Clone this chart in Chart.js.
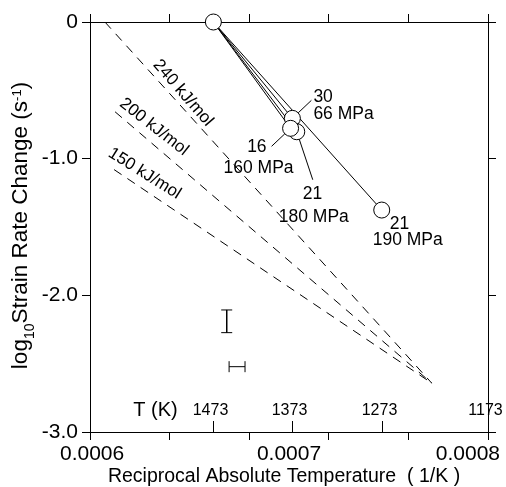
<!DOCTYPE html>
<html>
<head>
<meta charset="utf-8">
<script src="https://cdn.jsdelivr.net/npm/chart.js@4.4.0/dist/chart.umd.min.js"></script>
<style>
  html, body { margin: 0; padding: 0; background: #fff; }
  #strainChart { display: block; }
</style>
</head>
<body>
<canvas id="strainChart" width="506" height="487"></canvas>
<script>
// measured runs: reciprocal temperature (1/K) vs log10 strain rate change
const rateX = [0.000662, 0.0007017, 0.0007039, 0.0007008, 0.0007466];
const rateY = [0, -0.705, -0.803, -0.778, -1.376];
const runLabels = ['', '30', '21', '16', '21'];
const stressLabels = ['', '66 MPa', '180 MPa', '160 MPa', '190 MPa'];

// activation energy reference lines
const energyLabels = ['240 kJ/mol', '200 kJ/mol', '150 kJ/mol'];
const energyStartX = [0.0006075, 0.0006126, 0.0006121];
const energyStartY = [0, -0.657, -1.080];
const energyEndX = [0.0007717, 0.0007717, 0.0007717];
const energyEndY = [-2.642, -2.642, -2.642];

// error bars
const errVertX = [0.0006687, 0.0006687];
const errVertY = [-2.107, -2.273];
const errHorzX = [0.0006699, 0.0006779];
const errHorzY = [-2.522, -2.522];

// ticks
const xTicks = [0.0006, 0.00064, 0.00068, 0.00072, 0.00076, 0.0008];
const xTickLabels = [0.0006, 0.0007, 0.0008];
const yTicks = [0, -1, -2, -3];
const tempLabels = ['1473', '1373', '1273', '1173'];
const tempX = [0.000662, 0.0007015, 0.0007467, 0.0008];

const FONT = '"Liberation Sans", Arial, sans-serif';

// where the labels sit (pixel offsets from each circle)
const labelLayout = [
    null,
    { top: [21, -16, 'left'], bottom: [21, 1, 'left'], leader: [19, -18] },
    { top: [6, 67, 'left'], bottom: [-18, 90, 'left'], leader: [16, 48] },
    { top: [-24, 24, 'right'], bottom: [3, 45, 'right'], leader: [-19, 18] },
    { top: [8, 18.5, 'left'], bottom: [-9, 34.5, 'left'] }
];
const energyLayout = {
    x: [0.00064673, 0.00063216, 0.00062739],
    y: [-0.5195, -0.768, -1.1085],
    angle: [49, 38, 32]
};

const datasets = [];
datasets.push({
    data: rateX.map((x, i) => ({ x: x, y: rateY[i] })),
    pointRadius: 8,
    pointBackgroundColor: '#fff',
    pointBorderColor: '#000',
    pointBorderWidth: 1,
    showLine: false,
    clip: false
});
rateX.slice(1).forEach((x, i) => {
    datasets.push({
        data: [{ x: rateX[0], y: rateY[0] }, { x: x, y: rateY[i + 1] }],
        showLine: true, borderColor: '#000', borderWidth: 1, pointRadius: 0
    });
});
energyLabels.forEach((t, i) => {
    datasets.push({
        data: [{ x: energyStartX[i], y: energyStartY[i] }, { x: energyEndX[i], y: energyEndY[i] }],
        showLine: true, borderColor: '#000', borderWidth: 1, borderDash: [9, 7], pointRadius: 0
    });
});
datasets.push({
    data: errVertX.map((x, i) => ({ x: x, y: errVertY[i] })),
    showLine: true, borderColor: '#000', borderWidth: 1,
    pointStyle: 'line', pointRadius: 5.5, pointBorderColor: '#000', pointBorderWidth: 1
});
datasets.push({
    data: errHorzX.map((x, i) => ({ x: x, y: errHorzY[i] })),
    showLine: true, borderColor: '#000', borderWidth: 1,
    pointStyle: 'line', pointRotation: 90, pointRadius: 5.5, pointBorderColor: '#000', pointBorderWidth: 1
});

function frameAxis(position, size, ticks) {
    const horizontal = position === 'top' || position === 'bottom';
    return {
        type: 'linear',
        position: position,
        min: horizontal ? 0.0006 : -3,
        max: horizontal ? 0.0008 : 0,
        afterBuildTicks: s => { s.ticks = ticks.map(v => ({ value: v })); },
        afterFit: s => { if (horizontal) s.height = size; else s.width = size; },
        ticks: { display: false },
        grid: { drawOnChartArea: false, drawTicks: true, tickLength: 8, tickColor: '#000', tickWidth: 1 },
        border: { display: true, color: '#000', width: 1 }
    };
}

const yLeft = frameAxis('left', 90, yTicks);
yLeft.ticks = {
    display: true,
    color: '#000',
    padding: 4,
    font: { family: FONT, size: 21 },
    callback: v => (v === 0 ? '0' : v.toFixed(1))
};

const overlay = {
    id: 'overlay',
    afterDatasetsDraw(chart) {
        const ctx = chart.ctx;
        const xs = chart.scales.x, ys = chart.scales.y;
        const area = chart.chartArea;
        ctx.save();
        ctx.fillStyle = '#000';
        ctx.strokeStyle = '#000';
        ctx.lineWidth = 1;

        // energy labels along the dashed lines
        ctx.font = '17px ' + FONT;
        ctx.textAlign = 'center';
        ctx.textBaseline = 'middle';
        energyLabels.forEach((t, i) => {
            ctx.save();
            ctx.translate(xs.getPixelForValue(energyLayout.x[i]), ys.getPixelForValue(energyLayout.y[i]));
            ctx.rotate(energyLayout.angle[i] * Math.PI / 180);
            ctx.fillText(t, 0, 0);
            ctx.restore();
        });

        // run / stress labels with leaders
        ctx.font = '17.5px ' + FONT;
        ctx.textBaseline = 'alphabetic';
        rateX.forEach((x, i) => {
            const lay = labelLayout[i];
            if (!lay) return;
            const px = xs.getPixelForValue(x), py = ys.getPixelForValue(rateY[i]);
            ctx.textAlign = lay.top[2];
            ctx.fillText(runLabels[i], px + lay.top[0], py + lay.top[1]);
            ctx.textAlign = lay.bottom[2];
            ctx.fillText(stressLabels[i], px + lay.bottom[0], py + lay.bottom[1]);
            if (lay.leader) {
                const d = Math.hypot(lay.leader[0], lay.leader[1]);
                ctx.beginPath();
                ctx.moveTo(px + lay.leader[0], py + lay.leader[1]);
                ctx.lineTo(px + lay.leader[0] / d * 8, py + lay.leader[1] / d * 8);
                ctx.stroke();
            }
        });

        // temperature scale ticks inside the bottom axis
        ctx.font = '16px ' + FONT;
        ctx.textAlign = 'center';
        tempX.forEach((v, i) => {
            const px = Math.round(xs.getPixelForValue(v)) + 0.5;
            ctx.beginPath();
            ctx.moveTo(px, area.bottom);
            ctx.lineTo(px, area.bottom - 11);
            ctx.stroke();
            ctx.fillText(tempLabels[i], px - 3, area.bottom - 17);
        });
        ctx.font = '20px ' + FONT;
        ctx.fillText('T (K)', 155.5, area.bottom - 16);

        // x tick labels
        ctx.font = '21px ' + FONT;
        xTickLabels.forEach(v => {
            const t = v.toFixed(4);
            const w = ctx.measureText(t).width;
            let px = xs.getPixelForValue(v);
            px = Math.max(60 + w / 2, Math.min(500 - w / 2, px));
            ctx.fillText(t, px, area.bottom + 28);
        });

        // x title
        ctx.font = '19.5px ' + FONT;
        ctx.fillText('Reciprocal Absolute Temperature  ( 1/K )', 284, 482);

        // y title with sub/superscripts
        const parts = [['log', 22.5, 0], ['10', 14, 7], ['Strain Rate Change (s', 22.5, 0], ['-1', 13, -6], [')', 22.5, 0]];
        let total = 0;
        parts.forEach(p => { ctx.font = p[1] + 'px ' + FONT; total += ctx.measureText(p[0]).width; });
        ctx.save();
        ctx.translate(27, 225.5);
        ctx.rotate(-Math.PI / 2);
        ctx.textAlign = 'left';
        let cx = -total / 2;
        parts.forEach(p => {
            ctx.font = p[1] + 'px ' + FONT;
            ctx.fillText(p[0], cx, p[2]);
            cx += ctx.measureText(p[0]).width;
        });
        ctx.restore();

        ctx.restore();
    }
};

new Chart(document.getElementById('strainChart'), {
    type: 'scatter',
    data: { datasets: datasets },
    options: {
        responsive: false,
        animation: false,
        devicePixelRatio: 1,
        layout: { padding: 0 },
        plugins: { legend: { display: false }, tooltip: { enabled: false } },
        scales: {
            x: frameAxis('bottom', 55, xTicks),
            x2: frameAxis('top', 22, xTicks),
            y: yLeft,
            y2: frameAxis('right', 18, yTicks)
        }
    },
    plugins: [overlay]
});
</script>
</body>
</html>
